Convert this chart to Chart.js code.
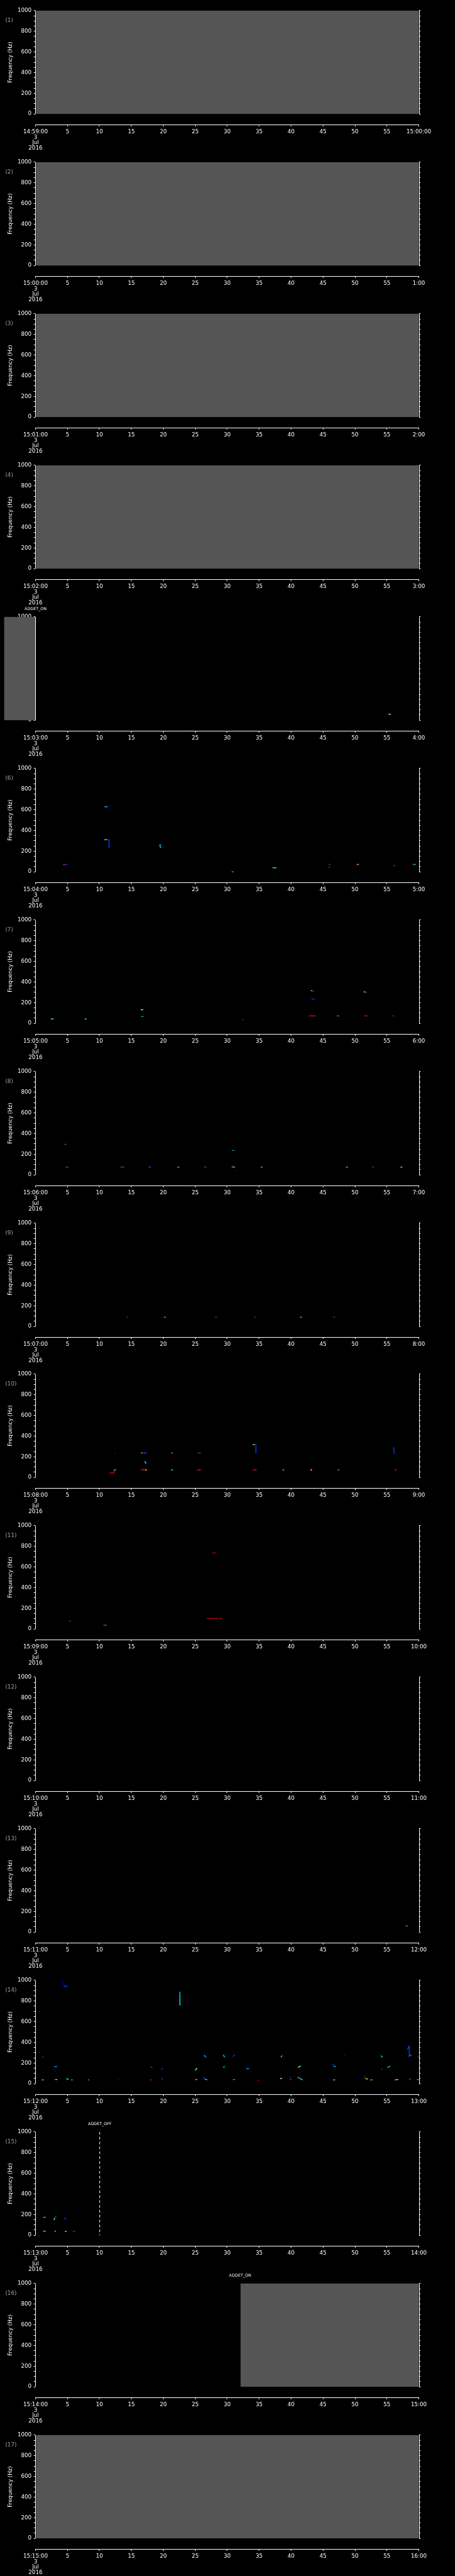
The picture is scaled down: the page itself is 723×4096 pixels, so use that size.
<!DOCTYPE html>
<html>
<head>
<meta charset="utf-8">
<script src="https://cdn.jsdelivr.net/npm/chart.js@4.4.1/dist/chart.umd.min.js"></script>
<style>
  html, body { margin: 0; padding: 0; background: #000; }
  #wrap { position: relative; width: 723px; height: 4096px; overflow: hidden; background: #000; }
  #wrap canvas { position: absolute; left: 0; }
</style>
</head>
<body>
<div id="wrap"></div>
<script>
// 17 one-minute panels, frequency 0-1000 Hz, time in seconds

// start / end labels of the time axis of each panel
const startLabels = ['14:59:00', '15:00:00', '15:01:00', '15:02:00', '15:03:00', '15:04:00',
  '15:05:00', '15:06:00', '15:07:00', '15:08:00', '15:09:00', '15:10:00', '15:11:00',
  '15:12:00', '15:13:00', '15:14:00', '15:15:00'];
const endLabels = ['15:00:00', '1:00', '2:00', '3:00', '4:00', '5:00', '6:00', '7:00', '8:00',
  '9:00', '10:00', '11:00', '12:00', '13:00', '14:00', '15:00', '16:00'];
const dateLines = ['3', 'Jul', '2016'];

const xTicks = [0, 5, 10, 15, 20, 25, 30, 35, 40, 45, 50, 55, 60];
const yTicks = [0, 50, 100, 150, 200, 250, 300, 350, 400, 450, 500, 550, 600, 650, 700, 750, 800, 850, 900, 950, 1000];

// grey (no data) intervals, seconds
const grayIntervals = [
  [[0, 60]], [[0, 60]], [[0, 60]], [[0, 60]], [[-5, 0]], [], [], [], [], [], [], [], [], [], [],
  [[32, 60]], [[0, 60]]
];

// events: [panel, second, text, dashed line]
const eventMarks = [
  [4, 0, 'ADDET_ON', false],
  [14, 10, 'ADDET_OFF', true],
  [15, 32, 'ADDET_ON', false]
];

// colour table of the intensity
const palette = ['#0000b0', '#0040ff', '#00a0ff', '#00e8ff', '#80ff80', '#ffff00', '#ff9000', '#ff0000', '#b00000'];

// tracks: [t0, f0, t1, f1, colour]
const tracks = [
  [], [], [], [],
  // (5)
  [[55.1, 60, 55.3, 60, 7], [55.3, 60, 55.5, 58, 5], [55.4, 56, 55.6, 56, 3]],
  // (6)
  [[4.3, 68, 4.6, 68, 7], [4.6, 71, 5.0, 71, 1],
   [10.8, 629, 11.2, 629, 3], [11.2, 632, 11.5, 632, 1],
   [10.8, 311, 11.1, 311, 5], [11.0, 312, 11.4, 312, 7], [11.5, 311, 11.5, 234, 1], [11.5, 234, 11.6, 234, 1],
   [19.5, 267, 19.5, 240, 3], [19.5, 236, 19.7, 236, 3],
   [30.7, 0, 31.0, 0, 2],
   [37.1, 39, 37.7, 39, 3],
   [45.9, 71, 46.0, 71, 7], [46.0, 71, 46.1, 71, 3], [45.9, 43, 46.0, 43, 3],
   [50.2, 71, 50.4, 71, 7], [50.4, 71, 50.6, 71, 4],
   [56.0, 60, 56.3, 60, 1], [56.2, 57, 56.4, 57, 0],
   [59.0, 71, 59.2, 71, 7], [59.2, 71, 59.5, 71, 3]],
  // (7)
  [[2.4, 42, 2.6, 42, 4], [2.6, 43, 2.9, 43, 3],
   [7.7, 42, 8.0, 42, 3],
   [16.5, 132, 16.7, 132, 5], [16.7, 132, 16.9, 132, 3],
   [16.6, 66, 16.7, 66, 4], [16.7, 66, 16.9, 66, 2],
   [32.4, 36, 32.6, 36, 1],
   [43.1, 316, 43.3, 316, 6], [43.3, 313, 43.6, 313, 1],
   [43.2, 235, 43.7, 235, 1],
   [42.8, 72, 43.9, 72, 7],
   [47.1, 72, 47.3, 72, 7], [47.3, 72, 47.5, 72, 3],
   [51.4, 304, 51.6, 304, 5], [51.6, 302, 51.9, 300, 1],
   [51.4, 72, 51.8, 72, 7], [51.8, 72, 52.0, 72, 1],
   [55.7, 72, 56.2, 72, 8]],
  // (8)
  [[4.6, 295, 4.8, 297, 2],
   [4.7, 76, 4.9, 76, 7], [4.9, 76, 5.2, 76, 1],
   [13.3, 76, 13.6, 76, 7], [13.6, 76, 13.9, 76, 1],
   [17.7, 76, 17.9, 76, 7], [17.9, 77, 18.1, 77, 1],
   [22.1, 76, 22.3, 76, 7], [22.3, 76, 22.5, 76, 3],
   [26.4, 76, 26.6, 76, 7], [26.6, 77, 26.8, 77, 1],
   [30.7, 78, 30.9, 78, 6], [30.9, 76, 31.2, 76, 3],
   [30.8, 236, 31.1, 236, 2],
   [31.2, 43, 31.3, 43, 1],
   [35.3, 76, 35.45, 76, 4], [35.45, 76, 35.6, 76, 7],
   [48.5, 76, 48.7, 76, 7], [48.7, 76, 48.9, 76, 3],
   [52.7, 76, 52.85, 76, 7], [52.85, 77, 53.0, 77, 1],
   [57.1, 76, 57.25, 76, 3], [57.25, 76, 57.4, 76, 5]],
  // (9)
  [[14.2, 90, 14.5, 90, 1], [20.1, 90, 20.4, 90, 3], [28.1, 90, 28.4, 90, 7],
   [34.2, 90, 34.5, 90, 1], [41.4, 90, 41.7, 90, 3], [46.6, 90, 46.9, 90, 7]],
  // (10)
  [[11.6, 43, 12.3, 43, 7], [12.3, 43, 12.3, 73, 7], [12.3, 73, 12.6, 73, 3],
   [12.4, 232, 12.5, 232, 7],
   [16.5, 237, 16.7, 237, 6], [16.7, 237, 17.3, 237, 1], [17.1, 237, 17.3, 234, 3],
   [17.1, 158, 17.3, 133, 3],
   [16.5, 74, 17.2, 74, 7], [17.2, 73, 17.4, 73, 5],
   [21.2, 237, 21.5, 236, 2],
   [21.2, 73, 21.5, 73, 3],
   [25.4, 237, 25.6, 237, 7], [25.6, 237, 25.9, 237, 1],
   [25.3, 73, 25.9, 73, 7],
   [34.0, 319, 34.3, 317, 4], [34.3, 316, 34.5, 316, 1], [34.5, 316, 34.5, 234, 1],
   [34.0, 73, 34.6, 73, 7],
   [38.6, 73, 38.75, 73, 7], [38.75, 73, 38.9, 73, 5],
   [42.9, 73, 43.1, 73, 7], [43.1, 73, 43.3, 73, 5],
   [47.3, 73, 47.45, 73, 3], [47.45, 73, 47.6, 73, 7],
   [56.0, 290, 56.1, 290, 1], [56.1, 290, 56.1, 240, 1], [56.1, 238, 56.3, 234, 1],
   [56.2, 73, 56.5, 73, 7]],
  // (11)
  [[5.2, 76, 5.6, 76, 8],
   [10.6, 37, 10.9, 37, 7], [10.9, 37, 11.1, 37, 3],
   [27.6, 737, 28.2, 737, 8],
   [26.8, 102, 27.8, 102, 8], [27.9, 102, 28.6, 102, 8], [28.7, 102, 29.2, 102, 8]],
  // (12)
  [],
  // (13)
  [[57.9, 60, 58.3, 60, 2]],
  // (14)
  [[1.0, 257, 1.3, 257, 1],
   [1.0, 37, 1.15, 37, 5], [1.15, 37, 1.3, 37, 6],
   [2.9, 165, 3.4, 165, 2],
   [3.0, 40, 3.2, 40, 6], [3.2, 40, 3.4, 40, 5],
   [4.3, 1000, 4.3, 943, 0], [4.4, 943, 5.0, 943, 1],
   [4.8, 45, 5.2, 45, 3],
   [5.6, 37, 5.8, 37, 4],
   [8.2, 37, 8.4, 37, 3],
   [13.0, 40, 13.1, 40, 1],
   [18.0, 165, 18.3, 153, 1],
   [17.9, 37, 18.2, 37, 7],
   [19.7, 150, 19.9, 140, 1],
   [19.75, 46, 19.85, 46, 3],
   [22.5, 865, 22.6, 875, 1], [22.6, 890, 22.6, 760, 3], [22.6, 760, 22.7, 760, 3],
   [25.0, 130, 25.3, 150, 4],
   [25.0, 40, 25.15, 40, 3], [25.15, 40, 25.3, 40, 5],
   [26.2, 60, 26.5, 45, 1], [26.5, 45, 26.9, 37, 3],
   [26.4, 275, 26.6, 262, 3], [26.6, 260, 26.8, 257, 1],
   [29.4, 280, 29.6, 255, 3],
   [29.4, 157, 29.6, 167, 3],
   [30.9, 262, 31.2, 280, 1],
   [30.9, 40, 31.05, 40, 3], [31.05, 40, 31.2, 40, 6],
   [32.9, 150, 33.1, 150, 1], [33.1, 145, 33.4, 145, 3],
   [34.8, 34, 35.0, 34, 7],
   [38.4, 257, 38.6, 272, 3],
   [38.3, 50, 38.6, 50, 4],
   [39.8, 63, 40.0, 63, 1],
   [39.8, 40, 40.1, 40, 7],
   [41.0, 60, 41.4, 55, 6], [41.4, 50, 41.8, 36, 3],
   [41.1, 155, 41.4, 170, 5], [41.4, 170, 41.6, 170, 2],
   [46.5, 186, 46.7, 170, 1], [46.7, 168, 47.0, 168, 3],
   [46.6, 37, 46.9, 37, 4],
   [48.4, 280, 48.5, 280, 1],
   [51.4, 67, 51.7, 50, 1], [51.7, 48, 52.0, 45, 5],
   [52.4, 37, 52.8, 37, 6],
   [54.1, 272, 54.3, 255, 3],
   [54.1, 140, 54.3, 140, 1],
   [55.1, 155, 55.5, 170, 3],
   [56.2, 35, 56.5, 40, 6], [56.5, 40, 56.8, 40, 4],
   [58.2, 330, 58.5, 368, 1], [58.5, 368, 58.5, 260, 1],
   [58.5, 265, 58.8, 280, 2],
   [58.5, 45, 58.7, 45, 2],
   [59.8, 260, 60, 260, 1],
   [59.7, 40, 60, 40, 6]],
  // (15)
  [[1.2, 174, 1.6, 174, 3],
   [2.9, 147, 3.0, 168, 4], [3.0, 176, 3.3, 176, 1],
   [4.5, 168, 4.8, 152, 1],
   [1.2, 39, 1.6, 39, 6],
   [2.9, 39, 3.05, 39, 7], [3.05, 39, 3.2, 39, 4],
   [4.6, 37, 4.9, 37, 4],
   [5.8, 37, 6.0, 37, 1], [6.0, 37, 6.2, 37, 7]],
  // (16)
  [],
  // (17)
  []
];

// sizes (reference pixels times 0.705)
const S = 0.705;
const W = 723;
const PANEL_H = 4096 / 17;
const CANVAS_H = 241;
const PLOT_LEFT = 80 * S, PLOT_RIGHT = 944 * S, PLOT_TOP = 24 * S;
const F0_Y = 257 * S, AXIS_Y = 281 * S;
const Y_MIN = -(AXIS_Y - F0_Y) / (F0_Y - PLOT_TOP) * 1000;
const RIGHT_W = 10;
const FONT = { family: 'DejaVu Sans', size: 8.7, lineHeight: 0.98 };
const GRAY = 'rgb(85,85,85)';

const decor = {
  id: 'decor',
  afterDatasetsDraw(chart, args, opts) {
    const { ctx, scales: { x, y } } = chart;
    const p = opts.panel;
    const yTop = y.getPixelForValue(1000), yBot = y.getPixelForValue(0);
    ctx.save();
    // panel number and axis title
    ctx.font = FONT.size + 'px "DejaVu Sans"';
    ctx.fillStyle = '#a0a0a0';
    ctx.textAlign = 'left';
    ctx.textBaseline = 'middle';
    ctx.fillText('(' + (p + 1) + ')', 12 * S, yTop + 23 * S);
    ctx.fillStyle = '#fff';
    ctx.translate(23.5 * S, (yTop + yBot) / 2);
    ctx.rotate(-Math.PI / 2);
    ctx.textAlign = 'center';
    ctx.fillText('Frequency (Hz)', 0, 0);
    ctx.setTransform(1, 0, 0, 1, 0, 0);
    // no-data boxes
    ctx.fillStyle = GRAY;
    grayIntervals[p].forEach(([a, b]) => {
      const xa = x.getPixelForValue(a), xb = x.getPixelForValue(b);
      ctx.fillRect(xa + 1, yTop, xb - xa - 1, yBot - yTop);
    });
    // left and right frequency axes
    ctx.strokeStyle = '#fff';
    ctx.lineWidth = 1;
    ctx.beginPath();
    [x.getPixelForValue(0), x.getPixelForValue(60)].forEach(px => {
      const ax = Math.round(px) + 0.5;
      ctx.moveTo(ax, yTop);
      ctx.lineTo(ax, yBot);
    });
    ctx.stroke();
    // events
    eventMarks.filter(e => e[0] === p).forEach(([, t, text, dashed]) => {
      const ex = Math.round(x.getPixelForValue(t)) + 0.5;
      if (dashed) {
        ctx.setLineDash([6 * S, 5 * S]);
        ctx.beginPath();
        ctx.moveTo(ex, yTop);
        ctx.lineTo(ex, yBot);
        ctx.stroke();
        ctx.setLineDash([]);
      }
      ctx.fillStyle = '#fff';
      ctx.font = (9 * S) + 'px "DejaVu Sans"';
      ctx.textAlign = 'center';
      ctx.textBaseline = 'middle';
      ctx.fillText(text, ex, yTop - 17.5 * S);
    });
    ctx.restore();
  }
};

function makePanel(p) {
  const canvas = document.createElement('canvas');
  canvas.width = W;
  canvas.height = CANVAS_H;
  canvas.style.top = Math.round(p * PANEL_H) + 'px';
  document.getElementById('wrap').appendChild(canvas);

  const datasets = tracks[p].map(([t0, f0, t1, f1, c]) => ({
    data: [{ x: t0, y: f0 }, { x: t1, y: f1 }],
    showLine: true,
    borderColor: palette[c],
    backgroundColor: palette[c],
    borderWidth: 1.4,
    pointRadius: 0
  }));

  new Chart(canvas, {
    type: 'scatter',
    data: { datasets },
    options: {
      responsive: false,
      animation: false,
      devicePixelRatio: 1,
      events: [],
      layout: { padding: { top: PLOT_TOP, left: 0, right: W - PLOT_RIGHT - RIGHT_W, bottom: 0 } },
      plugins: { legend: { display: false }, tooltip: { enabled: false }, decor: { panel: p } },
      scales: {
        x: {
          type: 'linear', position: 'bottom', min: 0, max: 60,
          afterBuildTicks: s => { s.ticks = xTicks.map(v => ({ value: v })); },
          afterFit: s => { s.height = CANVAS_H - AXIS_Y; },
          grid: { drawOnChartArea: false, tickLength: 4 * S, color: '#fff', lineWidth: 1 },
          border: { display: true, color: '#fff', width: 1 },
          ticks: {
            color: '#fff', font: FONT, padding: 4.8, maxRotation: 0, autoSkip: false,
            callback: v => v === 0 ? [startLabels[p]].concat(dateLines) : (v === 60 ? endLabels[p] : String(v))
          }
        },
        y: {
          type: 'linear', position: 'left', min: Y_MIN, max: 1000,
          afterBuildTicks: s => { s.ticks = yTicks.map(v => ({ value: v })); },
          afterFit: s => { s.width = PLOT_LEFT; },
          grid: { drawOnChartArea: false, tickLength: 4 * S, color: '#fff', lineWidth: 1 },
          border: { display: false },
          ticks: {
            color: '#fff', font: FONT, padding: 3.5, autoSkip: false,
            callback: v => v % 200 === 0 ? String(v) : ''
          }
        },
        y2: {
          type: 'linear', position: 'right', min: Y_MIN, max: 1000,
          afterBuildTicks: s => { s.ticks = yTicks.map(v => ({ value: v })); },
          afterFit: s => { s.width = RIGHT_W; },
          grid: { drawOnChartArea: false, tickLength: 4 * S, color: '#fff', lineWidth: 1 },
          border: { display: false },
          ticks: { display: false }
        }
      }
    },
    plugins: [decor]
  });
}

for (let p = 0; p < 17; p++) makePanel(p);
</script>
</body>
</html>
